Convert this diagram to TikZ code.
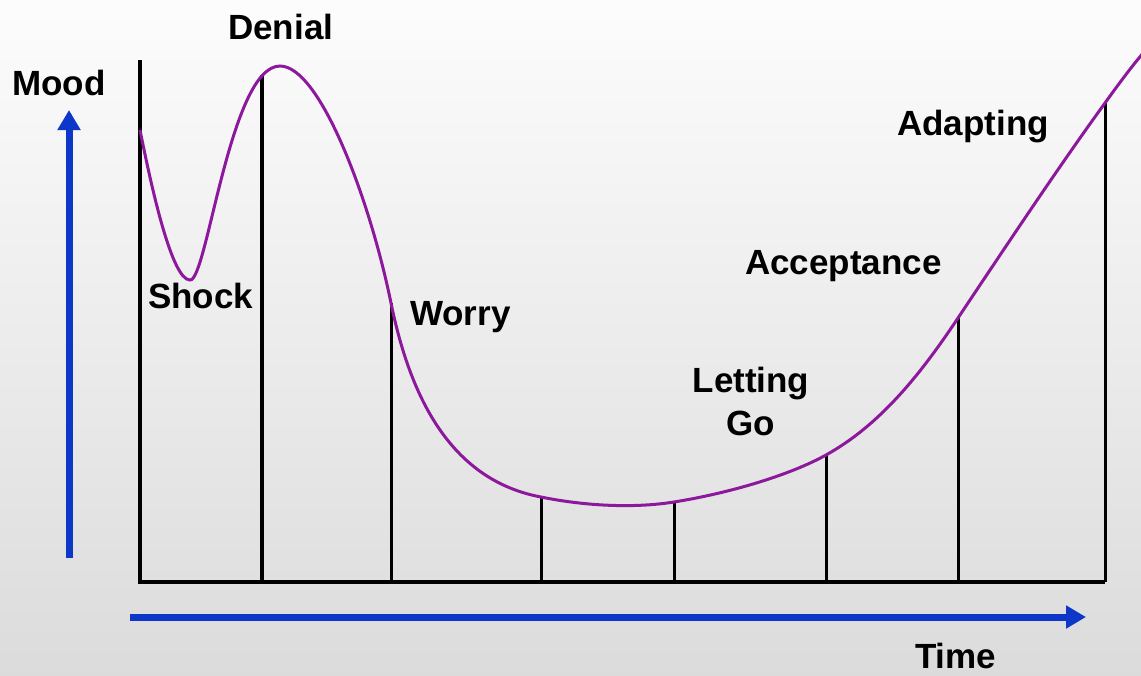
\documentclass[tikz,border=0pt]{standalone}
\usepackage{fontspec}
\setmainfont{Liberation Sans}
\usetikzlibrary{arrows.meta}
\definecolor{moodpurple}{RGB}{140,25,155}
\definecolor{axisblue}{RGB}{12,55,200}
\tikzset{
  stage/.style={font=\fontsize{35}{43}\selectfont\bfseries, inner sep=0pt, anchor=base west},
  tick/.style={line width=3pt, black},
  axisarrow/.style={line width=7pt, axisblue, -{Triangle[length=20pt,width=22pt]}}
}
\begin{document}
\begin{tikzpicture}[x=1pt,y=-1pt]
  \useasboundingbox (0,0) rectangle (1141,675);
  \shade[top color=white!98!gray, bottom color=gray!28] (0,0) rectangle (1141,675);

  \draw[line width=4pt] (140,60) -- (140,582) -- (1105,582);
  \draw[line width=4pt] (262,75) -- (262,582);
  \foreach \x/\y in {391/303,541/497,674/502,826/455,958/318,1105/103}
  \draw[tick] (\x,582) -- (\x,\y);

  \draw[moodpurple,line width=3pt] (140,130)
    .. controls (152,190) and (172,280) .. (190,280)
    .. controls (207,282) and (230,66) .. (280,66)
    .. controls (320,66) and (370,200) .. (391,303)
    .. controls (410,396) and (450,480) .. (541,497)
    .. controls (580,505) and (630,509) .. (674,502)
    .. controls (730,493) and (790,475) .. (826,455)
    .. controls (880,425) and (920,375) .. (958,318)
    .. controls (1010,240) and (1060,165) .. (1105,103)
    .. controls (1120,82) and (1135,62) .. (1150,45);

  \coordinate (ybot) at (69,558);
  \coordinate (ytop) at (69,110);
  \coordinate (xleft) at (130,617);
  \coordinate (xright) at (1086,617);
  \draw[axisarrow] (ybot) -- (ytop);
  \draw[axisarrow] (xleft) -- (xright);

  \node[stage] (mood) at (12,95) {Mood};
  \node[stage] (denial) at (228,39) {Denial};
  \node[stage] (shock) at (148,308) {Shock};
  \node[stage] (worry) at (410,325) {Worry};
  \node[stage,align=center,anchor=north] (letgo) at (751,367) {Letting\\Go};
  \node[stage] (accept) at (745,274) {Acceptance};
  \node[stage] (adapt) at (897,135) {Adapting};
  \node[stage] (time) at (915,668) {Time};
\end{tikzpicture}
\end{document}
